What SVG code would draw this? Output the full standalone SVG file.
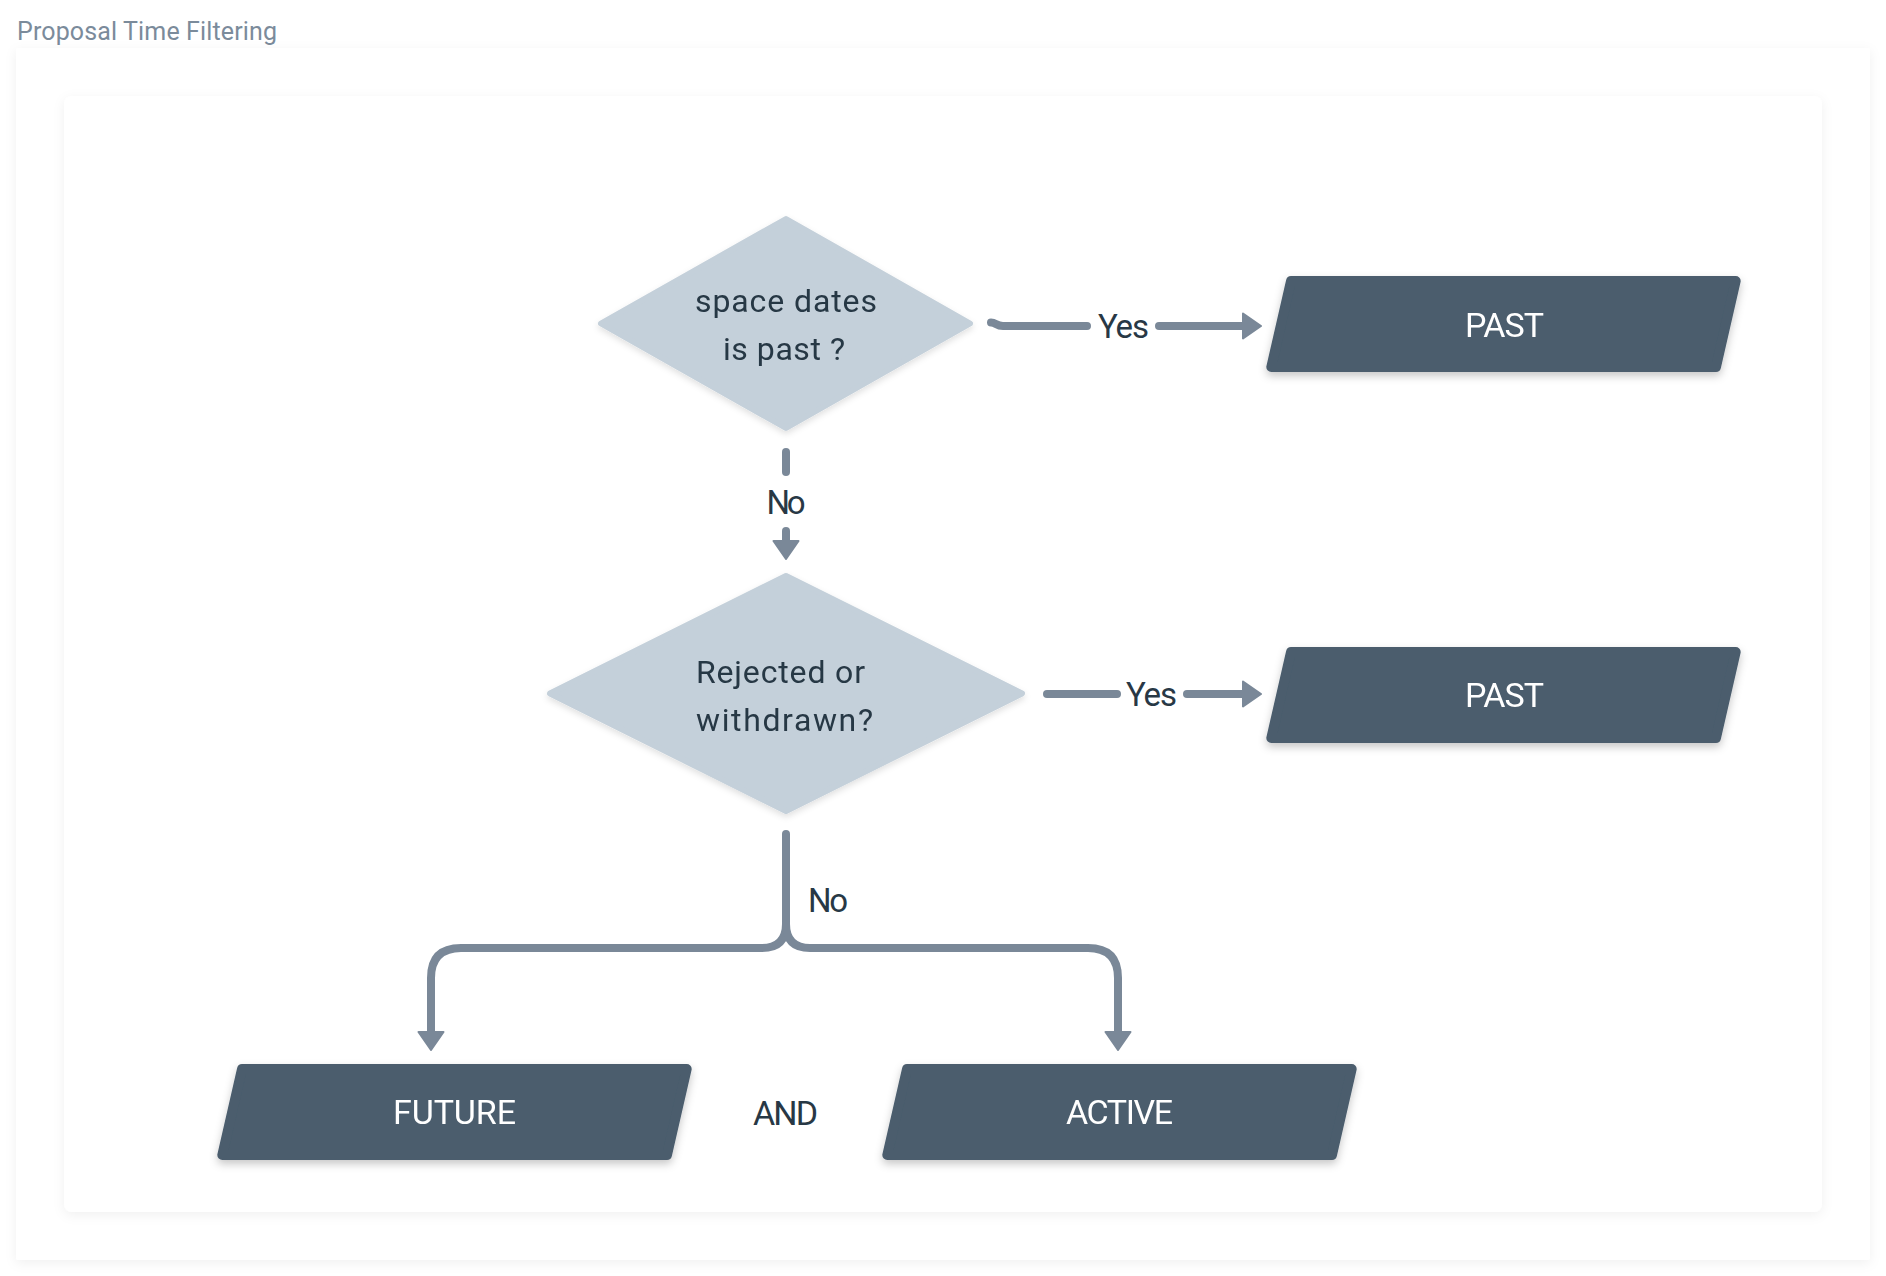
<svg xmlns="http://www.w3.org/2000/svg" width="1886" height="1276" viewBox="0 0 1886 1276">
<style>
.frame{fill:#ffffff}
.dia{fill:#c4d0da;stroke:#c4d0da;stroke-width:6;stroke-linejoin:round}
.box{fill:#4b5d6d;stroke:#4b5d6d;stroke-width:10;stroke-linejoin:round}
.conn{fill:none;stroke:#7a8898;stroke-width:8;stroke-linecap:round;stroke-linejoin:round}
.t{font-family:Roboto,"Liberation Sans",sans-serif;text-anchor:middle}
.dt{font-size:32px;fill:#283845}
.lbl{font-size:33px;fill:#283845}
.bt{font-size:34px;fill:#ffffff}
.title{font-family:Roboto,"Liberation Sans",sans-serif;font-size:25px;fill:#7b8b9b}
</style>
<defs>
<filter id="fs" x="-5%" y="-5%" width="110%" height="110%">
<feDropShadow dx="0" dy="3" stdDeviation="6" flood-color="#000" flood-opacity="0.06"/>
</filter>
<filter id="bs" x="-10%" y="-20%" width="120%" height="150%">
<feDropShadow dx="0" dy="4" stdDeviation="4" flood-color="#000" flood-opacity="0.22"/>
</filter>
<filter id="ds" x="-10%" y="-10%" width="120%" height="125%">
<feDropShadow dx="0" dy="3" stdDeviation="3" flood-color="#000" flood-opacity="0.12"/>
</filter>
<marker id="ah" markerUnits="userSpaceOnUse" viewBox="0 0 20 28" markerWidth="20" markerHeight="28" refX="1" refY="14" orient="auto">
<path d="M1,1.5 L19,14 L1,26.5 Z" fill="#7a8898" stroke="#7a8898" stroke-width="2" stroke-linejoin="round"/>
</marker>
</defs>
<rect x="0" y="0" width="1886" height="1276" fill="#ffffff"/>
<text class="title" x="17" y="40" textLength="260">Proposal Time Filtering</text>
<rect class="frame" x="16" y="48" width="1854" height="1212" rx="2" filter="url(#fs)"/>
<rect class="frame" x="64" y="96" width="1758" height="1116" rx="8" filter="url(#fs)"/>

<g id="connectors">
<path class="conn" d="M991,322.5 C996,322.5 996,326 1003,326 L1087,326"/>
<text class="t lbl" x="1123.5" y="338" textLength="51">Yes</text>
<path class="conn" d="M1159,326 L1243,326" marker-end="url(#ah)"/>

<path class="conn" d="M786,452 L786,472"/>
<text class="t lbl" x="786" y="514" textLength="39">No</text>
<path class="conn" d="M786,531 L786,541" marker-end="url(#ah)"/>

<path class="conn" d="M1047,694 L1117,694"/>
<text class="t lbl" x="1151.5" y="706" textLength="51">Yes</text>
<path class="conn" d="M1187,694 L1243,694" marker-end="url(#ah)"/>

<path class="conn" d="M786,834 L786,924 Q786,948 762,948 L461,948 Q431,948 431,978 L431,1032" marker-end="url(#ah)"/>
<path class="conn" d="M786,924 Q786,948 810,948 L1088,948 Q1118,948 1118,978 L1118,1032" marker-end="url(#ah)"/>
<text class="lbl" x="808" y="912" textLength="40" style="font-family:Roboto,'Liberation Sans',sans-serif">No</text>
</g>

<g id="dec1" filter="url(#ds)">
<polygon class="dia" points="786,219 970,323.5 786,428 601,323.5"/>
<text class="t dt" x="786" y="312" textLength="182">space dates</text>
<text class="t dt" x="784" y="360" textLength="122">is past ?</text>
</g>

<g id="dec2" filter="url(#ds)">
<polygon class="dia" points="786,576 1022,693.5 786,811 550,693.5"/>
<text class="t dt" x="780.5" y="683" textLength="169">Rejected or</text>
<text class="t dt" x="784.5" y="731" textLength="177">withdrawn?</text>
</g>

<g id="past1" filter="url(#bs)">
<polygon class="box" points="1291,281 1735.7,281 1716,367 1271.3,367"/>
<text class="t bt" x="1504.5" y="337" textLength="79">PAST</text>
</g>

<g id="past2" filter="url(#bs)">
<polygon class="box" points="1291,652 1735.7,652 1716,738 1271.3,738"/>
<text class="t bt" x="1504.5" y="707" textLength="79">PAST</text>
</g>

<g id="future" filter="url(#bs)">
<polygon class="box" points="242,1069 686.7,1069 667,1155 222.3,1155"/>
<text class="t bt" x="454.5" y="1124" textLength="123">FUTURE</text>
</g>

<g id="and">
<text class="t bt" x="785.5" y="1125" textLength="65" style="fill:#283845">AND</text>
</g>

<g id="active" filter="url(#bs)">
<polygon class="box" points="907,1069 1351.7,1069 1332,1155 887.3,1155"/>
<text class="t bt" x="1119.5" y="1124" textLength="107">ACTIVE</text>
</g>
</svg>
